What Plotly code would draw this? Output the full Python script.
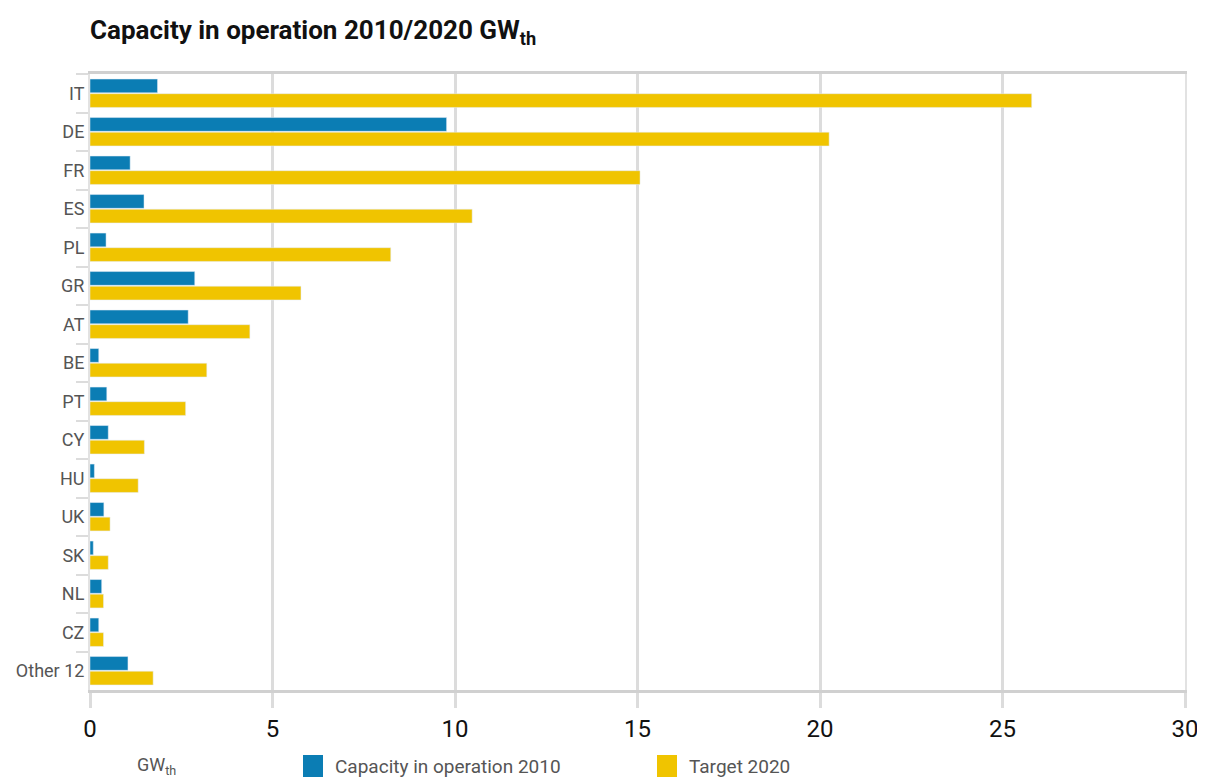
import plotly.graph_objects as go

categories = ["IT", "DE", "FR", "ES", "PL", "GR", "AT", "BE", "PT", "CY",
              "HU", "UK", "SK", "NL", "CZ", "Other 12"]
capacity_2010 = [1.85, 9.77, 1.1, 1.48, 0.44, 2.87, 2.69, 0.24, 0.46, 0.5,
                 0.12, 0.38, 0.09, 0.32, 0.24, 1.04]
target_2020 = [25.8, 20.25, 15.07, 10.47, 8.24, 5.78, 4.38, 3.2, 2.62, 1.49,
               1.32, 0.55, 0.5, 0.37, 0.37, 1.73]
x_ticks = [0, 5, 10, 15, 20, 25, 30]

BLUE = "#0b7db4"
YELLOW = "#f0c400"
GRID = "#dcdcdc"
FONT = "Roboto, Liberation Sans, sans-serif"

# page body has an 8px margin; figure sized/offset to compensate
W, H = 1197, 770
OFF = 8

fig = go.Figure()
fig.add_trace(go.Bar(y=categories, x=capacity_2010, orientation="h",
                     name="Capacity in operation 2010", marker_color=BLUE))
fig.add_trace(go.Bar(y=categories, x=target_2020, orientation="h",
                     name="Target 2020", marker_color=YELLOW))

fig.update_layout(
    width=W, height=H,
    margin=dict(l=90-OFF, r=20, t=74-OFF, b=88, autoexpand=False),
    paper_bgcolor="white", plot_bgcolor="white",
    barmode="group", bargap=0.24, bargroupgap=0.06,
    showlegend=False,
    font=dict(family=FONT, color="#555"),
    title=dict(text="<b>Capacity in operation 2010/2020 GW<sub>th</sub></b>",
               x=(90-OFF)/W, xanchor="left", y=1-(30-OFF)/H, yanchor="middle",
               font=dict(family=FONT, size=26, color="#111")),
)
fig.update_xaxes(range=[0, 30], tickvals=x_ticks, showgrid=True,
                 gridcolor=GRID, gridwidth=3, zeroline=False, automargin=False,
                 showline=True, linecolor="#d0d0d0", linewidth=3, mirror=True,
                 ticks="outside", ticklen=15, tickwidth=3, tickcolor=GRID,
                 tickfont=dict(family=FONT, size=24, color="#111"))
fig.update_yaxes(autorange="reversed", showgrid=False, automargin=False,
                 showline=True, linecolor="#e2e2e2", linewidth=2, mirror=True,
                 ticks="outside", tickson="boundaries", ticklen=12, tickwidth=2,
                 tickcolor=GRID,
                 tickfont=dict(family=FONT, size=18, color="#555"))

# legend row (paper coords relative to the plot area: 1095 x 616 px)
ly = 1 - (766 - 74) / 616
fig.add_annotation(xref="paper", yref="paper", x=(135-90)/1095, y=ly,
                   text="GW<sub>th</sub>", showarrow=False, xanchor="left",
                   yanchor="middle", font=dict(family=FONT, size=18, color="#555"))
for x0, col, label in [(303, BLUE, "Capacity in operation 2010"),
                       (657, YELLOW, "Target 2020")]:
    fig.add_shape(type="rect", xref="paper", yref="paper",
                  x0=(x0-90)/1095, x1=(x0+20-90)/1095,
                  y0=ly - 11/616, y1=ly + 11/616,
                  fillcolor=col, line=dict(width=0))
    fig.add_annotation(xref="paper", yref="paper", x=(x0+30-90)/1095, y=ly,
                       text=label, showarrow=False, xanchor="left",
                       yanchor="middle",
                       font=dict(family=FONT, size=19, color="#555"))

fig.write_html("out.html")
